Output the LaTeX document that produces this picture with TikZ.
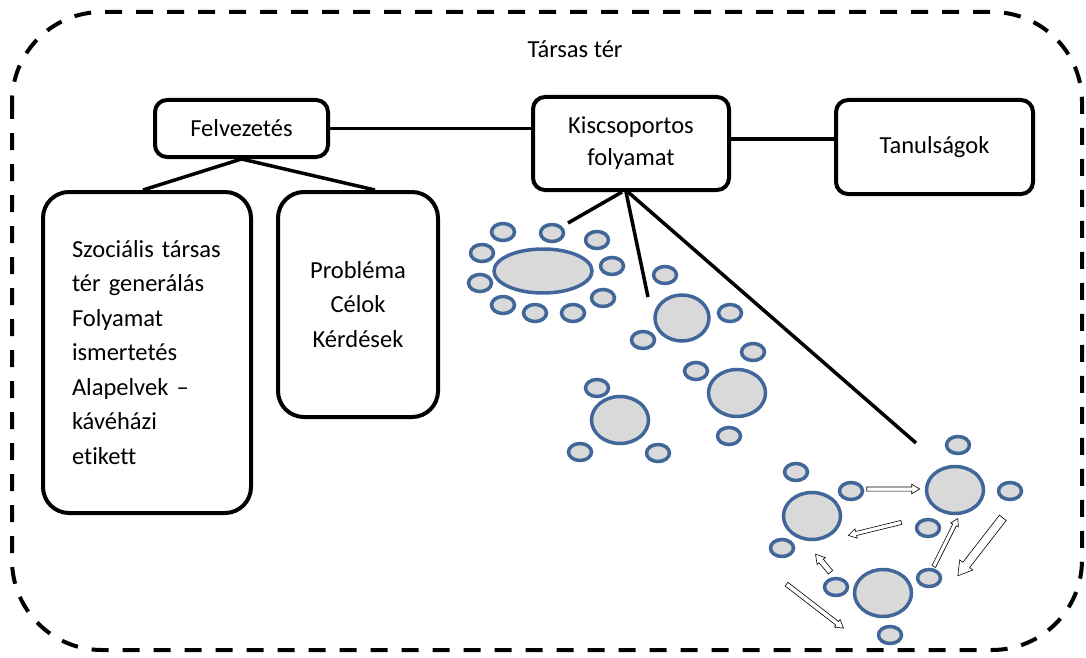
\documentclass[tikz,border=0pt]{standalone}
\usepackage{fontspec}
\setmainfont{Carlito}[Ligatures=NoCommon]
\usetikzlibrary{shapes.geometric,shapes.arrows,calc}

\definecolor{seatblue}{HTML}{41679A}
\definecolor{seatfill}{HTML}{D9D9D9}

\newcommand{\holarrow}[4]{%
  \path let \p1=(#3), \p2=(#4), \n1={atan2(\y2-\y1,\x2-\x1)}, \n2={veclen(\x2-\x1,\y2-\y1)} in
    ($(#3)!.5!(#4)$) node[harrow, inner ysep=#1/2, single arrow head extend=#2, minimum height=\n2, rotate=\n1] {};}

\begin{document}
\begin{tikzpicture}[x=1pt, y=-1pt, line width=3.5pt,
  box/.style={draw, line width=4pt, rounded corners=12pt, inner sep=0pt, align=center,
    font=\fontsize{24.5}{34.5}\selectfont},
  bigbox/.style={box, rounded corners=26pt},
  seat/.style={ellipse, draw=seatblue, fill=seatfill, line width=3.5pt, inner sep=0pt,
    minimum width=23pt, minimum height=17pt},
  table/.style={seat, minimum width=57pt, minimum height=47pt},
  harrow/.style={single arrow, draw=black, fill=white, line width=.6pt, inner xsep=0pt,
    single arrow tip angle=62}]

\useasboundingbox (0,0) rectangle (1086,658);
\draw [line width=4pt, dash pattern=on 17pt off 14pt, rounded corners=90pt] (12,12) rectangle (1082,650);
\node [font=\fontsize{24.5}{30}\selectfont, anchor=base] (title) at (575,58) {Társas tér};

\node [box, minimum width=173pt, minimum height=57pt] (felv) at (241.5,128.5) {Felvezetés};
\node [box, minimum width=196pt, minimum height=93pt, font=\fontsize{24.5}{32}\selectfont] (kiscs) at (631,143.5) {Kiscsoportos\\folyamat};
\node [box, minimum width=197pt, minimum height=94pt] (tanul) at (934.5,147) {Tanulságok};
\node [bigbox, minimum width=208pt, minimum height=321pt, text width=150pt, align=left] (bev) at (147,352.5)
  {Szociális társas\\tér generálás\\Folyamat\\ismertetés\\Alapelvek –\\kávéházi\\etikett};
\node [bigbox, minimum width=160pt, minimum height=225pt] (prob) at (358,304.5) {Probléma\\Célok\\Kérdések};

\draw (felv.east) -- (felv.east -| kiscs.west);
\draw (kiscs.east) ++(0,-4.5) coordinate (k1) -- (k1 -| tanul.west);
\draw (felv.south) -- ([xshift=-4pt]bev.north);
\draw (felv.south) -- ([xshift=17pt]prob.north);

% asztalok
\node [seat, minimum width=98pt, minimum height=44pt] (t1) at (543,271) {};
\foreach \p [count=\i] in {(503,232),(552,233),(597,240),(482,253),(612,266),(480,283),(503,305),(535,313),(573,313),(603,298)}
  \node [seat] (s1-\i) at \p {};
\node [table, minimum width=54pt, minimum height=46pt] (t2) at (682,318) {};
\node [table] (t3) at (737,393) {};
\node [table] (t4) at (620,420) {};
\node [table] (t5) at (812,516) {};
\node [table] (t6) at (955,490) {};
\node [table] (t7) at (883,593) {};
\foreach \p [count=\i] in {(665,275),(730,313),(643,340),(753,352),(696,371),(729,436),(597,388),(580,452),(658,453),
  (796,472),(851,491),(782,548),(958,445),(1010,491),(928,528),(836,587),(929,578),(890,635)}
  \node [seat] (s2-\i) at \p {};

\coordinate (c1) at (568,223);
\coordinate (c2) at (648,297);
\coordinate (c3) at (916,443);
\draw ([xshift=-9pt]kiscs.south) -- (c1);
\draw ([xshift=-5pt]kiscs.south) -- (c2);
\draw ([xshift=-3pt]kiscs.south) -- (c3);

\coordinate (a1) at (865,489); \coordinate (b1) at (918,489);
\coordinate (a2) at (903,522); \coordinate (b2) at (850,535);
\coordinate (a3) at (1005,515); \coordinate (b3) at (960,573);
\coordinate (a4) at (933,568); \coordinate (b4) at (957,520);
\coordinate (a5) at (832,574); \coordinate (b5) at (817,556);
\coordinate (a6) at (785,583); \coordinate (b6) at (842,627);
\holarrow{3.5pt}{2.75pt}{a1}{b1}
\holarrow{3.5pt}{2.75pt}{a2}{b2}
\holarrow{8pt}{4pt}{a3}{b3}
\holarrow{3.5pt}{2.25pt}{a4}{b4}
\holarrow{5pt}{2.5pt}{a5}{b5}
\holarrow{4pt}{2.5pt}{a6}{b6}

\end{tikzpicture}
\end{document}
